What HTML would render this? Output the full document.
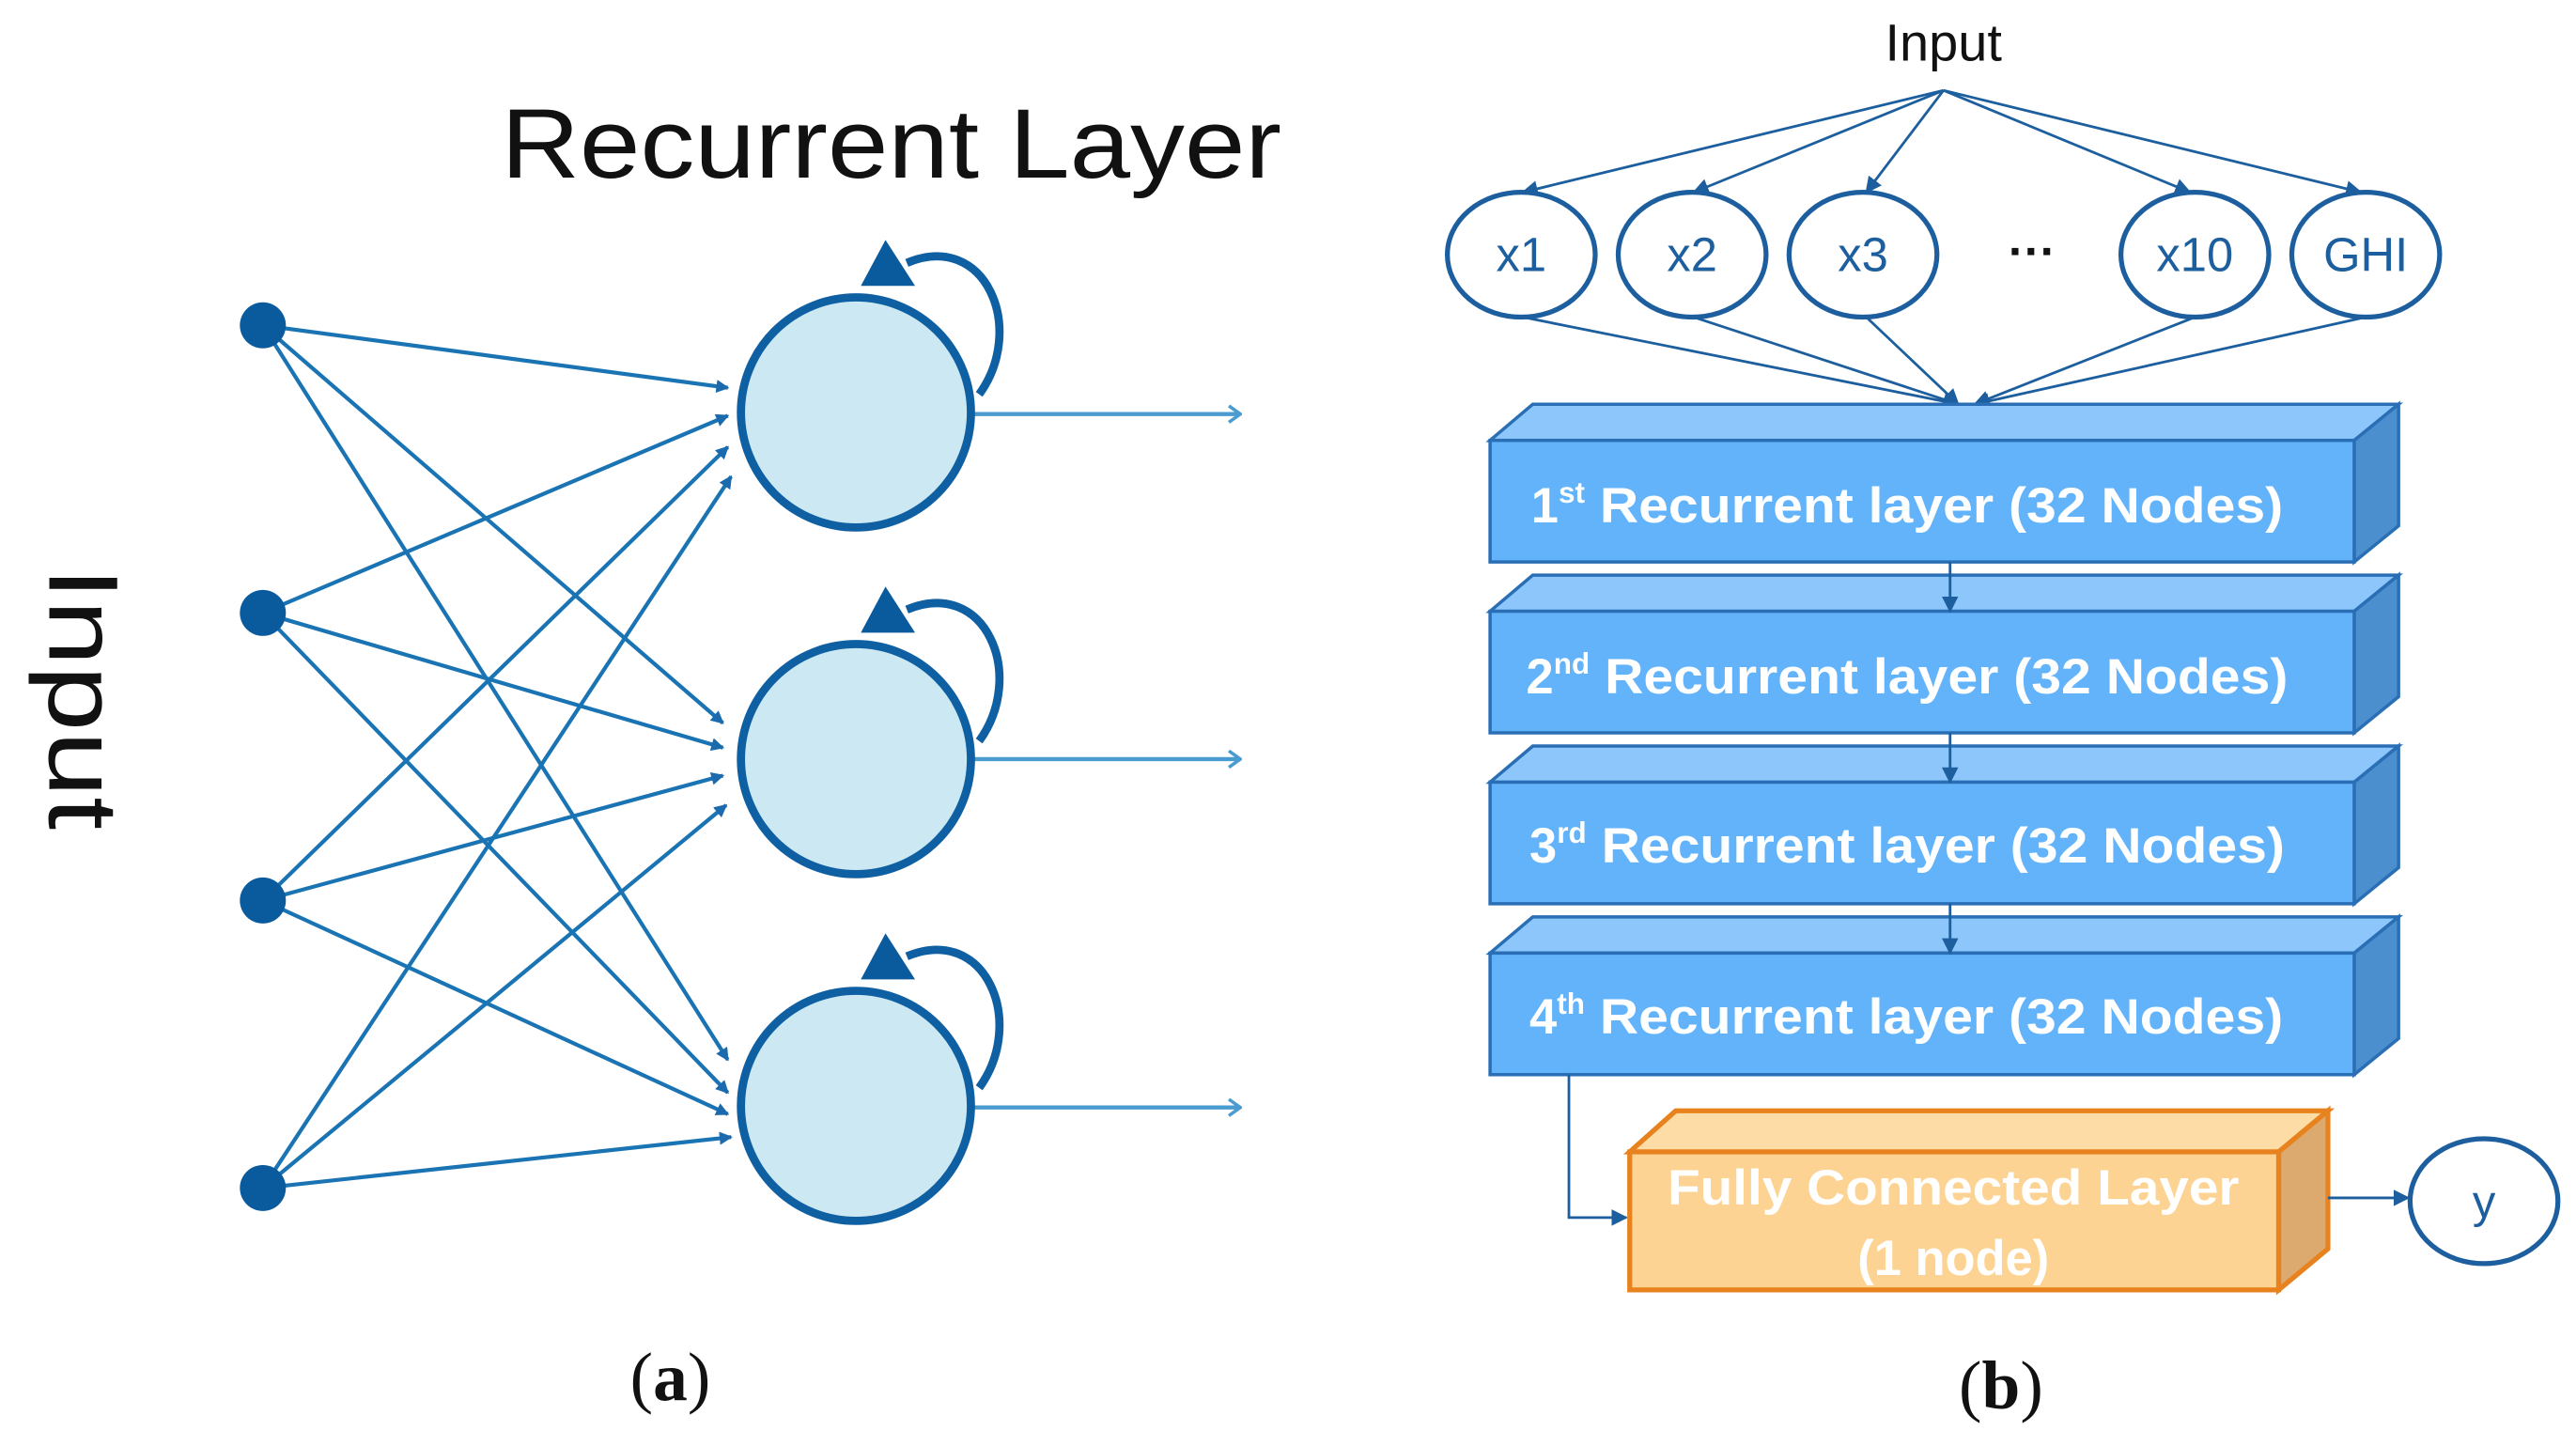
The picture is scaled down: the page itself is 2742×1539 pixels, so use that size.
<!DOCTYPE html>
<html><head><meta charset="utf-8"><style>
html,body{margin:0;padding:0;background:#fff;}
svg{display:block;}
</style></head><body>
<svg width="2742" height="1539" viewBox="0 0 1568 880" preserveAspectRatio="none" xmlns="http://www.w3.org/2000/svg">
<defs>
<marker id="ah" markerWidth="8" markerHeight="8" refX="7" refY="4" orient="auto" markerUnits="userSpaceOnUse"><path d="M0,0 L8,4 L0,8 Z" fill="#1b6aae"/></marker>
<marker id="oh" markerWidth="10" markerHeight="12" refX="9" refY="6" orient="auto" markerUnits="userSpaceOnUse"><path d="M2,1 L9,6 L2,11" fill="none" stroke="#4a9bd0" stroke-width="2"/></marker>
<marker id="bh" markerWidth="10" markerHeight="10" refX="9" refY="5" orient="auto" markerUnits="userSpaceOnUse"><path d="M0,0 L10,5 L0,10 Z" fill="#1d5f9e"/></marker>
</defs>

<!-- Panel (a) -->
<text x="305" y="108" font-family="Liberation Sans, sans-serif" font-size="60" textLength="475" lengthAdjust="spacingAndGlyphs" fill="#111">Recurrent Layer</text>
<text transform="translate(30,425) rotate(90)" font-family="Liberation Sans, sans-serif" font-size="60" text-anchor="middle" textLength="160" lengthAdjust="spacingAndGlyphs" fill="#111">Input</text>

<g stroke="#1a74b4" stroke-width="2.4" marker-end="url(#ah)">
<line x1="160" y1="198" x2="443" y2="236"/>
<line x1="160" y1="373" x2="443" y2="253"/>
<line x1="160" y1="548" x2="443" y2="272"/>
<line x1="160" y1="723" x2="445" y2="290"/>
<line x1="160" y1="198" x2="440" y2="440"/>
<line x1="160" y1="373" x2="440" y2="455"/>
<line x1="160" y1="548" x2="440" y2="472"/>
<line x1="160" y1="723" x2="442" y2="490"/>
<line x1="160" y1="198" x2="443" y2="645"/>
<line x1="160" y1="373" x2="443" y2="665"/>
<line x1="160" y1="548" x2="443" y2="678"/>
<line x1="160" y1="723" x2="445" y2="692"/>
</g>

<g fill="#0a5a9e">
<circle cx="160" cy="198" r="14"/>
<circle cx="160" cy="373" r="14"/>
<circle cx="160" cy="548" r="14"/>
<circle cx="160" cy="723" r="14"/>
</g>

<g>
<g stroke="#4a9bd0" stroke-width="2.5" marker-end="url(#oh)">
<line x1="592" y1="252" x2="755" y2="252"/>
<line x1="592" y1="462" x2="755" y2="462"/>
<line x1="592" y1="674" x2="755" y2="674"/>
</g>
<g fill="#cce8f3" stroke="#0f5fa3" stroke-width="5">
<circle cx="521" cy="251" r="70"/>
<circle cx="521" cy="462" r="70"/>
<circle cx="521" cy="673" r="70"/>
</g>
<g fill="none" stroke="#0f5fa3" stroke-width="5">
<path d="M552,160 C600,140 625,200 596,240"/>
<path d="M552,371 C600,351 625,411 596,451"/>
<path d="M552,582 C600,562 625,622 596,662"/>
</g>
<g fill="#0a5a9e">
<path d="M539,146 L524,174 L557,174 Z"/>
<path d="M539,357 L524,385 L557,385 Z"/>
<path d="M539,568 L524,596 L557,596 Z"/>
</g>
</g>

<text x="408" y="852" font-family="Liberation Serif, serif" font-size="42" text-anchor="middle" fill="#111">(<tspan font-weight="bold">a</tspan>)</text>

<!-- Panel (b) -->
<text x="1183" y="37" font-family="Liberation Sans, sans-serif" font-size="32" text-anchor="middle" fill="#111">Input</text>
<g stroke="#1d5f9e" stroke-width="1.6" marker-end="url(#bh)">
<line x1="1183" y1="55" x2="927" y2="117"/>
<line x1="1183" y1="55" x2="1031" y2="117"/>
<line x1="1183" y1="55" x2="1136" y2="117"/>
<line x1="1183" y1="55" x2="1333" y2="117"/>
<line x1="1183" y1="55" x2="1437" y2="117"/>
<line x1="927" y1="193" x2="1192" y2="246"/>
<line x1="1031" y1="193" x2="1192" y2="246"/>
<line x1="1136" y1="193" x2="1192" y2="246"/>
<line x1="1336" y1="193" x2="1202" y2="246"/>
<line x1="1440" y1="193" x2="1202" y2="246"/>
</g>
<g fill="#fff" stroke="#1d5f9e" stroke-width="3">
<ellipse cx="926" cy="155" rx="45" ry="38"/>
<ellipse cx="1030" cy="155" rx="45" ry="38"/>
<ellipse cx="1134" cy="155" rx="45" ry="38"/>
<ellipse cx="1336" cy="155" rx="45" ry="38"/>
<ellipse cx="1440" cy="155" rx="45" ry="38"/>
</g>
<g font-family="Liberation Sans, sans-serif" font-size="29" text-anchor="middle" fill="#1d5f9e">
<text x="926" y="165">x1</text>
<text x="1030" y="165">x2</text>
<text x="1134" y="165">x3</text>
<text x="1237" y="163" fill="#111" font-weight="bold">···</text>
<text x="1336" y="165">x10</text>
<text x="1440" y="165">GHI</text>
</g>

<g stroke="#2a6fb5" stroke-width="2">
<g>
<path d="M907,268 L933,246 L1460,246 L1433,268 Z" fill="#8cc6fa"/>
<path d="M1433,268 L1460,246 L1460,320 L1433,342 Z" fill="#4c8fce"/>
<rect x="907" y="268" width="526" height="74" fill="#62b3fa"/>
</g>
<g>
<path d="M907,372 L933,350 L1460,350 L1433,372 Z" fill="#8cc6fa"/>
<path d="M1433,372 L1460,350 L1460,424 L1433,446 Z" fill="#4c8fce"/>
<rect x="907" y="372" width="526" height="74" fill="#62b3fa"/>
</g>
<g>
<path d="M907,476 L933,454 L1460,454 L1433,476 Z" fill="#8cc6fa"/>
<path d="M1433,476 L1460,454 L1460,528 L1433,550 Z" fill="#4c8fce"/>
<rect x="907" y="476" width="526" height="74" fill="#62b3fa"/>
</g>
<g>
<path d="M907,580 L933,558 L1460,558 L1433,580 Z" fill="#8cc6fa"/>
<path d="M1433,580 L1460,558 L1460,632 L1433,654 Z" fill="#4c8fce"/>
<rect x="907" y="580" width="526" height="74" fill="#62b3fa"/>
</g>
</g>
<g stroke="#1d5f9e" stroke-width="1.6" marker-end="url(#bh)">
<line x1="1187" y1="342" x2="1187" y2="372"/>
<line x1="1187" y1="446" x2="1187" y2="476"/>
<line x1="1187" y1="550" x2="1187" y2="580"/>
</g>
<g font-family="Liberation Sans, sans-serif" font-size="30" font-weight="bold" fill="#fff">
<text x="932" y="318">1<tspan font-size="18" dy="-12">st</tspan><tspan dy="12" textLength="425" lengthAdjust="spacingAndGlyphs"> Recurrent layer (32 Nodes)</tspan></text>
<text x="929" y="422">2<tspan font-size="18" dy="-12">nd</tspan><tspan dy="12" textLength="425" lengthAdjust="spacingAndGlyphs"> Recurrent layer (32 Nodes)</tspan></text>
<text x="931" y="525">3<tspan font-size="18" dy="-12">rd</tspan><tspan dy="12" textLength="425" lengthAdjust="spacingAndGlyphs"> Recurrent layer (32 Nodes)</tspan></text>
<text x="931" y="629">4<tspan font-size="18" dy="-12">th</tspan><tspan dy="12" textLength="425" lengthAdjust="spacingAndGlyphs"> Recurrent layer (32 Nodes)</tspan></text>
</g>

<path d="M955,654 L955,741 L990,741" fill="none" stroke="#1d5f9e" stroke-width="1.6" marker-end="url(#bh)"/>
<g stroke="#e8821e" stroke-width="3">
<path d="M992,701 L1020,676 L1417,676 L1387,701 Z" fill="#fddca5"/>
<path d="M1387,701 L1417,676 L1417,760 L1387,785 Z" fill="#dcaa6e"/>
<rect x="992" y="701" width="395" height="84" fill="#fdd393"/>
</g>
<g font-family="Liberation Sans, sans-serif" font-size="30" font-weight="bold" text-anchor="middle" fill="#fff">
<text x="1189" y="733" textLength="348" lengthAdjust="spacingAndGlyphs">Fully Connected Layer</text>
<text x="1189" y="776">(1 node)</text>
</g>
<line x1="1417" y1="729" x2="1466" y2="729" stroke="#1d5f9e" stroke-width="1.6" marker-end="url(#bh)"/>
<ellipse cx="1512" cy="731" rx="45" ry="38" fill="#fff" stroke="#1d5f9e" stroke-width="3"/>
<text x="1512" y="741" font-family="Liberation Sans, sans-serif" font-size="28" text-anchor="middle" fill="#1d5f9e">y</text>

<text x="1218" y="857" font-family="Liberation Serif, serif" font-size="42" text-anchor="middle" fill="#111">(<tspan font-weight="bold">b</tspan>)</text>
</svg>
</body></html>
